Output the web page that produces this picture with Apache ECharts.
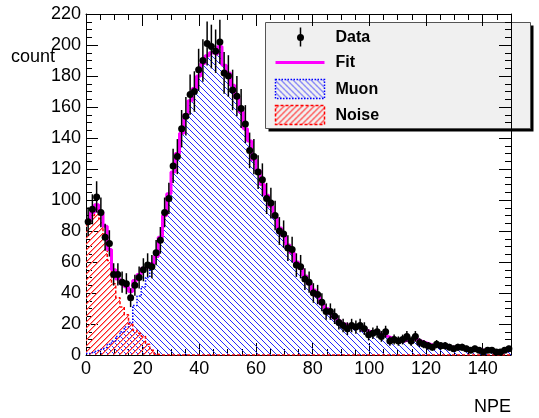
<!DOCTYPE html>
<html>
<head>
<meta charset="utf-8">
<script src="https://cdn.jsdelivr.net/npm/echarts@6/dist/echarts.min.js"></script>
<style>html,body{margin:0;padding:0;background:#fff}#chart{width:539px;height:418px}</style>
</head>
<body>
<div id="chart"></div>
<script>
// histogram binning: 100 bins of 1.5 NPE starting at 0
var binLow = 0;
var binWidth = 1.5;
var xRange = [0, 150];
var yRange = [0, 220];
var xStep = 20;
var yStep = 20;

// Muon template (blue)
var muon = [1, 2, 3, 4, 5, 7, 9, 12, 15, 18,
    21, 32, 38, 44, 50, 56, 63, 76, 90, 104,
    118, 130, 143, 155, 164, 172, 180, 188, 193, 195,
    194, 199, 187, 182, 174, 166, 157, 146, 138, 126,
    119, 110, 103, 96, 89, 82, 77, 71, 66, 60,
    56, 51, 46, 42, 38, 33, 30, 27, 24, 22,
    20, 19, 18, 18, 18, 16, 15, 14, 14, 13,
    12, 11, 10, 9, 9, 10, 10, 10, 9, 8,
    7, 6, 6, 6, 5, 5, 5, 5, 4, 4,
    4, 3, 3, 3, 3, 3, 2, 3, 2, 4];

// Noise template (red)
var noise = [85, 90, 94, 88, 78, 61, 46, 37, 31, 26,
    20, 16, 14, 12, 7, 3, 0.5, 0, 0, 0,
    0, 0, 0, 0, 0, 0, 0, 0, 0, 0,
    0, 0, 0, 0, 0, 0, 0, 0, 0, 0,
    0, 0, 0, 0, 0, 0, 0, 0, 0, 0,
    0, 0, 0, 0, 0, 0, 0, 0, 0, 0,
    0, 0, 0, 0, 0, 0, 0, 0, 0, 0,
    0, 0, 0, 0, 0, 0, 0, 0, 0, 0,
    0, 0, 0, 0, 0, 0, 0, 0, 0, 0,
    0, 0, 0, 0, 0, 0, 0, 0, 0, 0];

// measured counts
var counts = [86, 94, 102, 92, 76, 72, 52, 52, 47, 46,
    37, 45, 50, 55, 58, 57, 66, 74, 92, 101,
    122, 128, 146, 154, 168, 170, 184, 190, 201, 199,
    196, 202, 182, 180, 171, 167, 159, 149, 132, 128,
    118, 113, 101, 98, 90, 80, 78, 69, 68, 58,
    57, 49, 47, 40, 39, 34, 28, 28, 25, 21,
    19, 17, 19, 18, 19, 17, 13, 14, 15, 12,
    15, 9, 10, 9, 10, 12, 9, 12, 8, 7,
    6, 5, 7, 6, 6, 5, 4, 5, 5, 4,
    3, 4, 3, 2, 3, 3, 2, 2, 3, 4];

var fit = muon.map(function (v, i) { return v + noise[i]; });

function steps(vals) {
    var out = [];
    vals.forEach(function (v, i) {
        out.push([binLow + i * binWidth, v], [binLow + (i + 1) * binWidth, v]);
    });
    return out;
}

// pixel-exact diagonal hatch tile; optional softer neighbour pixel to widen the line
function hatch(rgb, dir, soft) {
    var s = 6;
    var c = document.createElement('canvas');
    c.width = s; c.height = s;
    var g = c.getContext('2d');
    var img = g.createImageData(s, s);
    function put(x, y, col) {
        var o = (y * s + ((x + s) % s)) * 4;
        img.data[o] = col[0]; img.data[o + 1] = col[1]; img.data[o + 2] = col[2]; img.data[o + 3] = 255;
    }
    for (var i = 0; i < s; i++) {
        var x = dir > 0 ? s - 1 - i : i;
        if (soft) put(x + 1, i, soft);
        put(x, i, rgb);
    }
    g.putImageData(img, 0, 0);
    return { image: c, repeat: 'repeat' };
}

var blueRGB = [40, 40, 255];
var redRGB = [255, 30, 30];
var redSoft = [255, 150, 150];

// hatched area under a step histogram, drawn as one polygon
function hatchArea(name, vals, pattern, z) {
    return {
        name: name, type: 'custom', z: z, silent: true, data: [[binLow, 0]], encode: { x: 0, y: 1 },
        renderItem: function (params, api) {
            var pts = steps(vals).map(function (p) { return api.coord(p); });
            pts.unshift(api.coord([binLow, 0]));
            pts.push(api.coord([binLow + vals.length * binWidth, 0]));
            return { type: 'polygon', shape: { points: pts }, style: { fill: pattern } };
        }
    };
}

var font = 'Liberation Sans';

function frameAxis(extra) {
    var base = {
        axisLine: { show: true, onZero: false, lineStyle: { color: '#000', width: 1 } },
        axisTick: { show: true, inside: true, length: 12, lineStyle: { color: '#000' } },
        minorTick: { show: true, splitNumber: 4, length: 6, lineStyle: { color: '#000' } },
        splitLine: { show: false },
        minorSplitLine: { show: false },
        axisLabel: { show: false }
    };
    return Object.assign(base, extra);
}

var legendFont = 'bold 16px "Liberation Sans"';

var myChart = echarts.init(document.getElementById('chart'));
myChart.setOption({
    animation: false,
    grid: { left: 86, right: 28, top: 14, bottom: 63 },
    xAxis: [
        frameAxis({
            type: 'value', position: 'bottom', min: xRange[0], max: xRange[1], interval: xStep,
            axisLabel: { show: true, showMaxLabel: false, color: '#000', fontSize: 18, fontFamily: font, margin: 5 }
        }),
        frameAxis({ type: 'value', position: 'top', min: xRange[0], max: xRange[1], interval: xStep })
    ],
    yAxis: [
        frameAxis({
            type: 'value', position: 'left', min: yRange[0], max: yRange[1], interval: yStep,
            axisLabel: { show: true, color: '#000', fontSize: 18, fontFamily: font, margin: 5 }
        }),
        frameAxis({ type: 'value', position: 'right', min: yRange[0], max: yRange[1], interval: yStep })
    ],
    series: [
        hatchArea('MuonFill', muon, hatch(blueRGB, -1), 1),
        hatchArea('NoiseFill', noise, hatch(redRGB, 1, redSoft), 2),
        {
            name: 'Muon', type: 'line', data: steps(muon), symbol: 'none', color: '#0000ff',
            lineStyle: { color: '#0000ff', width: 1.5, type: 'dotted' }, z: 3
        },
        {
            name: 'Noise', type: 'line', data: steps(noise), symbol: 'none', color: '#ff0000',
            lineStyle: { color: '#ff0000', width: 1.5, type: [3, 2] }, z: 3
        },
        {
            name: 'Fit', type: 'line', data: steps(fit), symbol: 'none', color: '#ff00ff',
            lineStyle: { color: '#ff00ff', width: 3 }, z: 4
        },
        {
            name: 'Data', type: 'custom', z: 5,
            data: counts.map(function (v, i) { return [binLow + (i + 0.5) * binWidth, v, Math.sqrt(v)]; }),
            encode: { x: 0, y: 1 },
            renderItem: function (params, api) {
                var x = api.value(0), y = api.value(1), e = api.value(2);
                var p = api.coord([x, y]);
                var l = api.coord([x - binWidth / 2, y]);
                var r = api.coord([x + binWidth / 2, y]);
                var top = api.coord([x, y + e]);
                var bot = api.coord([x, Math.max(y - e, 0)]);
                var st = { stroke: '#000', lineWidth: 1.5 };
                return {
                    type: 'group', children: [
                        { type: 'line', shape: { x1: l[0], y1: p[1], x2: r[0], y2: p[1] }, style: st },
                        { type: 'line', shape: { x1: p[0], y1: top[1], x2: p[0], y2: bot[1] }, style: st },
                        { type: 'circle', shape: { cx: p[0], cy: p[1], r: 3.5 }, style: { fill: '#000' } }
                    ]
                };
            }
        }
    ],
    graphic: [
        { type: 'text', left: 11, top: 48, style: { text: 'count', font: '18px "Liberation Sans"', fill: '#000' } },
        { type: 'text', right: 28, top: 398, style: { text: 'NPE', font: '18px "Liberation Sans"', fill: '#000' } },
        {
            type: 'group', left: 265, top: 22, z: 100, children: [
                { type: 'rect', shape: { x: 3, y: 3, width: 265, height: 106 }, style: { fill: '#000' } },
                { type: 'rect', shape: { x: 0, y: 0, width: 265, height: 106 }, style: { fill: '#f0f0f0', stroke: '#555', lineWidth: 1 } },
                { type: 'line', shape: { x1: 35, y1: 5, x2: 35, y2: 24 }, style: { stroke: '#000', lineWidth: 1.5 } },
                { type: 'circle', shape: { cx: 35, cy: 15, r: 3.5 }, style: { fill: '#000' } },
                { type: 'text', x: 70, y: 15, style: { text: 'Data', font: legendFont, fill: '#000', verticalAlign: 'middle' } },
                { type: 'line', shape: { x1: 10, y1: 40, x2: 59, y2: 40 }, style: { stroke: '#ff00ff', lineWidth: 3 } },
                { type: 'text', x: 70, y: 40, style: { text: 'Fit', font: legendFont, fill: '#000', verticalAlign: 'middle' } },
                { type: 'rect', shape: { x: 10, y: 57, width: 49, height: 19 }, style: { fill: hatch(blueRGB, -1), stroke: '#0000ff', lineWidth: 1.5, lineDash: [1.5, 1.5] } },
                { type: 'text', x: 70, y: 67, style: { text: 'Muon', font: legendFont, fill: '#000', verticalAlign: 'middle' } },
                { type: 'rect', shape: { x: 10, y: 83, width: 49, height: 19 }, style: { fill: hatch(redRGB, 1, redSoft), stroke: '#ff0000', lineWidth: 1.5, lineDash: [3, 2] } },
                { type: 'text', x: 70, y: 93, style: { text: 'Noise', font: legendFont, fill: '#000', verticalAlign: 'middle' } }
            ]
        }
    ]
});
</script>
</body>
</html>
